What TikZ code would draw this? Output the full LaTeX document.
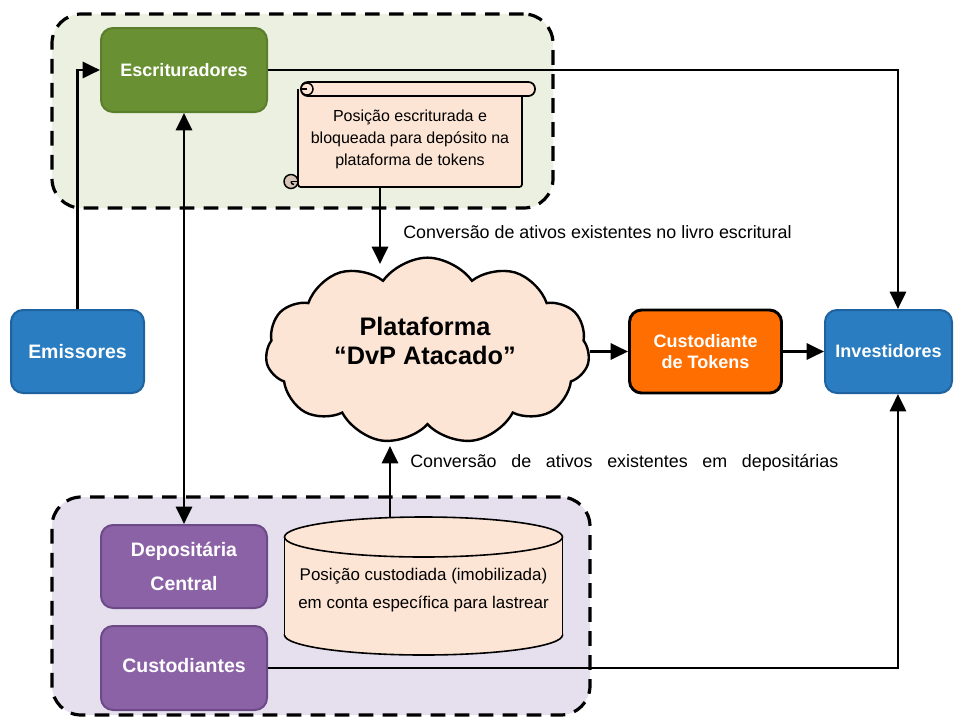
\documentclass[tikz,border=0pt]{standalone}
\usepackage{fontspec}
\setmainfont{Liberation Sans}
\usetikzlibrary{shapes.symbols,arrows.meta,calc}
\definecolor{grn}{HTML}{6A9034}
\definecolor{grnb}{HTML}{5B7E2C}
\definecolor{grnbg}{HTML}{EBF0E1}
\definecolor{blu}{HTML}{2A7DC0}
\definecolor{blub}{HTML}{1F62A0}
\definecolor{pur}{HTML}{8B62A6}
\definecolor{purb}{HTML}{6C4A88}
\definecolor{purbg}{HTML}{E6E0EE}
\definecolor{org}{HTML}{FF6E00}
\definecolor{peach}{HTML}{FDE5D5}
\definecolor{curlc}{HTML}{D8C4B6}
\begin{document}
\begin{tikzpicture}[x=0.75pt,y=-0.75pt,
  box/.style={rounded corners=9pt, line width=1.5pt, text=white,
    font=\fontsize{13.5}{16}\selectfont\bfseries, align=center, inner sep=0pt},
  bigtext/.style={font=\fontsize{14.6}{17}\selectfont\bfseries},
  greenbox/.style={box, fill=grn, draw=grnb},
  bluebox/.style={box, fill=blu, draw=blub},
  purplebox/.style={box, bigtext, fill=pur, draw=purb},
  orangebox/.style={box, fill=org, draw=black, line width=2.2pt},
  tip/.tip={Triangle[length=13pt,width=12pt]},
  conn/.style={line width=2.2pt, -tip},
  grp/.style={line width=2.4pt, dash pattern=on 11pt off 7pt, rounded corners=22pt, inner sep=0pt},
  lbl/.style={font=\fontsize{13.4}{15}\selectfont, inner sep=0pt},
  peachline/.style={line width=1.3pt, fill=peach}
]
\useasboundingbox (0,0) rectangle (960,718);

% group containers
\node[grp, draw=black, fill=grnbg, minimum width=375.75pt, minimum height=145.5pt] (topgrp) at (302.5,111) {};
\node[grp, draw=black, fill=purbg, minimum width=403.5pt, minimum height=163.5pt] (botgrp) at (321,606) {};

% boxes
\node[greenbox, minimum width=124.5pt, minimum height=63pt] (esc) at (184,70) {Escrituradores};
\node[bluebox, bigtext, minimum width=99.75pt, minimum height=62.25pt] (emi) at (77.5,351.5) {Emissores};
\node[orangebox, minimum width=114pt, minimum height=62.25pt] (ctok) at (705.5,351.5) {Custodiante\\de Tokens};
\node[bluebox, minimum width=95.25pt, minimum height=62.25pt] (inv) at (888.5,351.5) {Investidores};
\node[purplebox, minimum width=124.5pt, minimum height=62.25pt] (dep) at (184,566.5) {Deposit\'aria\\[9pt]Central};
\node[purplebox, minimum width=124.5pt, minimum height=63pt] (cust) at (184,668) {\raisebox{4.5pt}{Custodiantes}};

% scroll
\path[peachline, draw=black, rounded corners=2pt] (298,89) -- (298,187) -- (522,187) -- (522,89);
\draw[peachline, rounded corners=5pt] (301,82) rectangle (535,96);
\draw[line width=1.1pt, fill=peach] (307,89) circle[radius=6];
\draw[line width=1.1pt] (307,89) -- (301,89);
\draw[line width=1.1pt, fill=curlc] (291,181.5) circle[radius=7];
\draw[line width=1.1pt] (291,181.5) -- (298,181.5);
\draw[line width=1.1pt] (291,181.5) arc[start angle=180, end angle=90, radius=3];
\node[font=\fontsize{12}{16.5}\selectfont, align=center, inner sep=0pt] (scroll) at (410,139)
  {Posi\c{c}\~ao escriturada e\\bloqueada para dep\'osito na\\plataforma de tokens};

% cylinder
\draw[line width=1.2pt, fill=peach] (423.5,635) ellipse[x radius=139, y radius=20];
\fill[peach] (284.5,537) rectangle (562.5,635);
\draw[line width=1.2pt] (284.5,537) -- (284.5,635) (562.5,537) -- (562.5,635);
\draw[line width=1.2pt, fill=peach] (423.5,537) ellipse[x radius=139, y radius=20];
\node[font=\fontsize{12.7}{21}\selectfont, align=center, inner sep=0pt] (cyl) at (423.5,590)
  {Posi\c{c}\~ao custodiada (imobilizada)\\em conta espec\'ifica para lastrear};

% cloud
\node[cloud, cloud puffs=11, cloud puff arc=110, cloud ignores aspect, draw=black, fill=peach,
  line width=1.8pt, minimum width=243pt, minimum height=140pt] (plat) at (427.5,351) {};
\node[font=\fontsize{19}{22}\selectfont\bfseries, align=center, inner sep=0pt] (plattext) at (425,341)
  {Plataforma\\``DvP Atacado''};

% labels
\node[lbl, anchor=west] (lab1) at (403,232) {Convers\~ao de ativos existentes no livro escritural};
\node[lbl, anchor=west] (lab2) at (410,463) {\makebox[321pt][s]{Convers\~ao de ativos existentes em deposit\'arias}};

% helper coordinates
\coordinate (scrollout) at (380,187);
\coordinate (cloudtop) at (380,264);
\coordinate (cylout) at (390,518);
\coordinate (cloudbot) at (390,446);
\coordinate (invtop) at ([xshift=7.1pt]inv.north);
\coordinate (invbot) at ([xshift=7.1pt]inv.south);

% connectors
\draw[conn] (emi.north) |- (esc.west);
\draw[conn] (esc.east) -| (invtop);
\draw[conn, tip-tip] (esc.south) -- (esc.south |- dep.north);
\draw[conn] (scrollout) -- (cloudtop);
\draw[conn] (cylout) -- (cloudbot);
\draw[conn] (plat.east |- ctok.west) -- (ctok.west);
\draw[conn] (ctok.east) -- (inv.west);
\draw[conn] (cust.east) -| (invbot);
\end{tikzpicture}
\end{document}
